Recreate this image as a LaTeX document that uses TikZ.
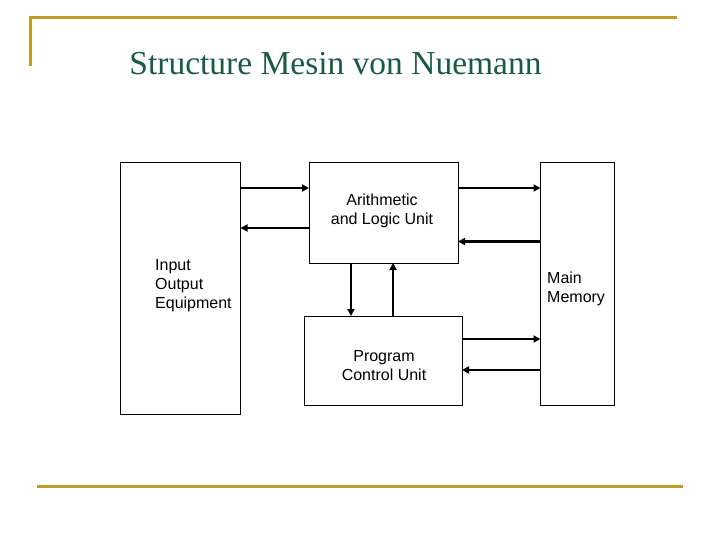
\documentclass[tikz,border=0pt]{standalone}
\usepackage{fontspec}
\setmainfont{Liberation Serif}
\setsansfont{Liberation Sans}
\usetikzlibrary{arrows.meta}
\definecolor{dorado}{RGB}{191,155,42}
\definecolor{verdetit}{RGB}{24,92,62}
\tikzset{
  bloque/.style={draw, line width=0.8pt, inner sep=0pt, outer sep=0pt},
  texto/.style={font=\sffamily\fontsize{16}{19}\selectfont, inner sep=0pt},
  flecha/.style={line width=2.6pt, -{Triangle[length=7pt,width=7pt]}},
  marco/.style={dorado, line width=3pt}
}
\begin{document}
\begin{tikzpicture}[x=1pt, y=-1pt]
        \useasboundingbox (0,0) rectangle (720,540);
        % Marco de la diapositiva
        \draw[marco] (677,18) -- (30,18) -- (30,66);
        \draw[marco] (37,486) -- (683,486);
        % Titulo
        \node[anchor=base, verdetit, font=\fontsize{33.5}{38}\selectfont, inner sep=0pt] (titulo) at (335.5,75) {Structure Mesin von Nuemann};
        % Bloques
        \node[bloque, minimum width=120, minimum height=252] (io) at (180.5,288) {};
        \node[bloque, minimum width=149, minimum height=101] (alu) at (383.5,212.5) {};
        \node[bloque, minimum width=74, minimum height=243] (mem) at (577.5,283.5) {};
        \node[bloque, minimum width=158, minimum height=89] (pcu) at (383,360.5) {};
        % Textos de los bloques
        \node[texto, align=left, anchor=west] (tio) at (155,286) {Input\\Output\\Equipment};
        \node[texto, align=center] (talu) at (382,210.5) {Arithmetic\\and Logic Unit};
        \node[texto, align=left, anchor=west] (tmem) at (547,289) {Main\\Memory};
        \node[texto, align=center] (tpcu) at (384,366) {Program\\Control Unit};
        % Alturas y posiciones de las flechas
        \coordinate (f1) at (0,188);
        \coordinate (f2) at (0,228);
        \coordinate (f3) at (0,241.5);
        \coordinate (f4) at (0,339);
        \coordinate (f5) at (0,370);
        \coordinate (v1) at (351,0);
        \coordinate (v2) at (393,0);
        % Flechas
        \draw[flecha] (io.east |- f1) -- (alu.west |- f1);
        \draw[flecha] (alu.west |- f2) -- (io.east |- f2);
        \draw[flecha] (alu.east |- f1) -- (mem.west |- f1);
        \draw[flecha] (mem.west |- f3) -- (alu.east |- f3);
        \draw[flecha] (alu.south -| v1) -- (pcu.north -| v1);
        \draw[flecha] (pcu.north -| v2) -- (alu.south -| v2);
        \draw[flecha] (pcu.east |- f4) -- (mem.west |- f4);
        \draw[flecha] (mem.west |- f5) -- (pcu.east |- f5);
    \end{tikzpicture}
\end{document}
